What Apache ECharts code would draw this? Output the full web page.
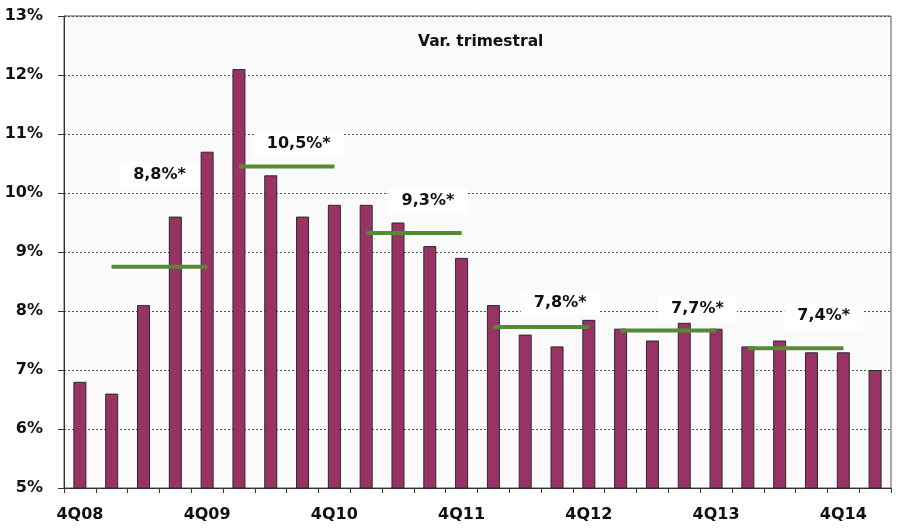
<!DOCTYPE html>
<html>
<head>
<meta charset="utf-8">
<script src="https://cdn.jsdelivr.net/npm/echarts@6/dist/echarts.min.js"></script>
<style>
  html, body { margin: 0; padding: 0; background: #fff; }
  #chart { width: 898px; height: 532px; }
</style>
</head>
<body>
<div id="chart"></div>
<script>
// ---- Data ----
const quarters = ['4Q08','1Q09','2Q09','3Q09','4Q09','1Q10','2Q10','3Q10','4Q10','1Q11','2Q11','3Q11','4Q11','1Q12','2Q12','3Q12','4Q12','1Q13','2Q13','3Q13','4Q13','1Q14','2Q14','3Q14','4Q14','1Q15'];
const quarterlyGrowth = [6.8, 6.6, 8.1, 9.6, 10.7, 12.1, 10.3, 9.6, 9.8, 9.8, 9.5, 9.1, 8.9, 8.1, 7.6, 7.4, 7.85, 7.7, 7.5, 7.8, 7.7, 7.4, 7.5, 7.3, 7.3, 7.0];
const yearStart = ['1Q09','1Q10','1Q11','1Q12','1Q13','1Q14'];
const yearEnd   = ['4Q09','4Q10','4Q11','4Q12','4Q13','4Q14'];
const yearAverage = [8.75, 10.45, 9.32, 7.73, 7.67, 7.37];
const yearLabels = ['8,8%*','10,5%*','9,3%*','7,8%*','7,7%*','7,4%*'];
const titleText = 'Var. trimestral';

// ---- Styling ----
const FONT = 'DejaVu Sans';
const labelOffsets = [[16,-92],[28,-23],[30,-32],[35,-24],[45,-22],[44,-32]];

const avgSeries = yearAverage.map((avg, k) => {
  const s = quarters.indexOf(yearStart[k]);
  const e = quarters.indexOf(yearEnd[k]);
  const data = quarters.map((q, i) => {
    if (i < s || i > e) return '-';
    if (i === s + 1) {
      return {
        value: avg,
        label: {
          show: true,
          position: 'inside',
          offset: labelOffsets[k],
          formatter: yearLabels[k],
          backgroundColor: '#ffffff',
          padding: [5, 13],
          fontFamily: FONT,
          fontWeight: 'bold',
          fontSize: 16,
          color: '#111'
        }
      };
    }
    return avg;
  });
  return {
    type: 'line',
    data: data,
    symbol: 'circle',
    symbolSize: 1,
    showSymbol: true,
    itemStyle: { color: '#578a34' },
    lineStyle: { color: '#578a34', width: 4 },
    z: 5,
    silent: true
  };
});

const chart = echarts.init(document.getElementById('chart'), null, { renderer: 'canvas' });
chart.setOption({
  animation: false,
  backgroundColor: '#ffffff',
  title: {
    text: titleText,
    left: 418,
    top: 34,
    padding: 0,
    textStyle: { fontFamily: FONT, fontWeight: 'bold', fontSize: 15.5, color: '#111' }
  },
  grid: {
    left: 64, right: 7, top: 16, bottom: 44,
    show: true,
    backgroundColor: '#fafafa',
    borderColor: '#555',
    borderWidth: 1
  },
  xAxis: {
    type: 'category',
    data: quarters,
    boundaryGap: true,
    axisLine: { lineStyle: { color: '#333', width: 1 } },
    axisTick: { show: true, interval: 0, length: 5, lineStyle: { color: '#333' } },
    axisLabel: {
      interval: 3,
      margin: 19,
      fontFamily: FONT,
      fontWeight: 'bold',
      fontSize: 16,
      color: '#111'
    },
    splitLine: { show: false }
  },
  yAxis: {
    type: 'value',
    min: 5,
    max: 13,
    interval: 1,
    axisLine: { show: true, lineStyle: { color: '#333', width: 1 } },
    axisTick: { show: true, length: 6, lineStyle: { color: '#333' } },
    axisLabel: {
      formatter: '{value}%',
      margin: 21,
      fontFamily: FONT,
      fontWeight: 'bold',
      fontSize: 16,
      color: '#111'
    },
    splitLine: { show: true, lineStyle: { color: '#555', type: [2, 2], width: 1 } }
  },
  series: [
    {
      type: 'bar',
      data: quarterlyGrowth,
      barWidth: 13,
      itemStyle: { color: '#993366', borderColor: '#2a2a2a', borderWidth: 1 },
      z: 2,
      silent: true
    }
  ].concat(avgSeries)
});
</script>
</body>
</html>
